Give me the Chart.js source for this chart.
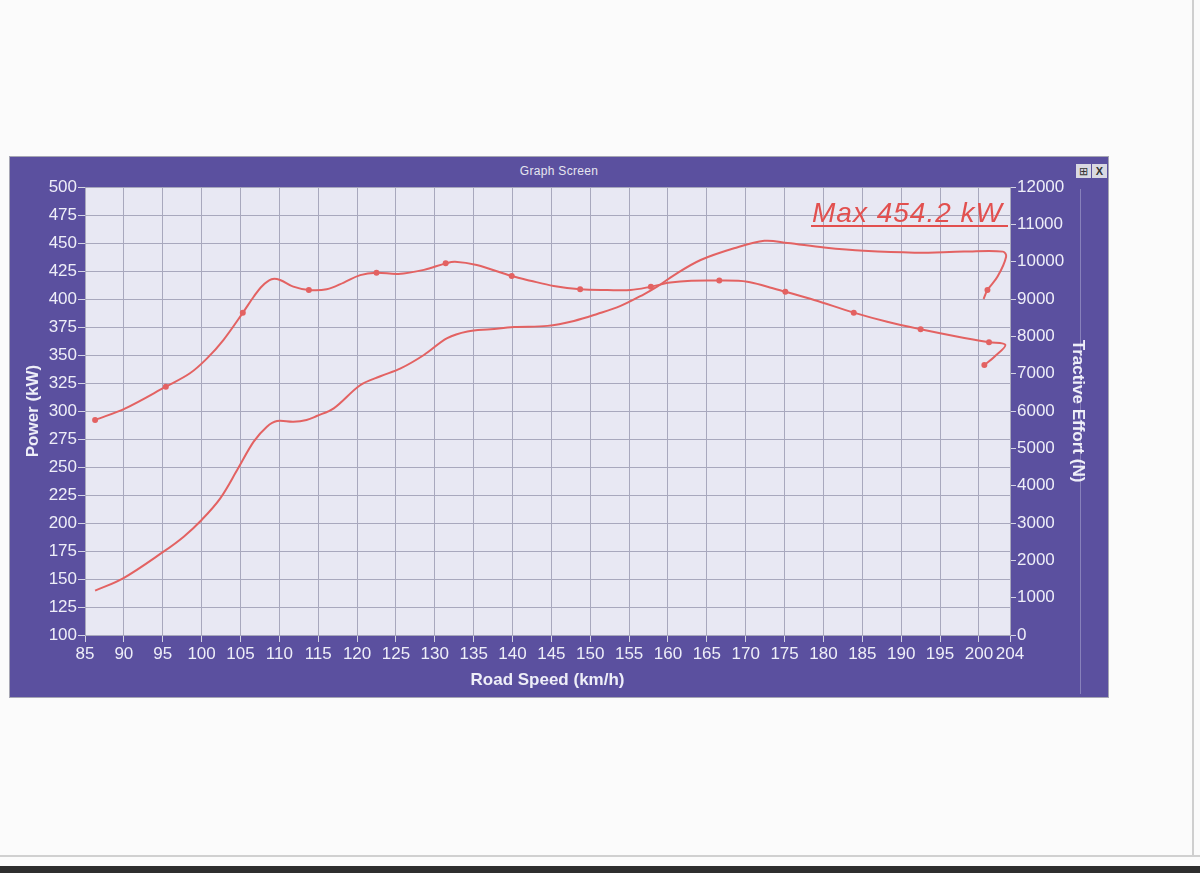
<!DOCTYPE html>
<html>
<head>
<meta charset="utf-8">
<title>Graph Screen</title>
<script src="https://cdn.jsdelivr.net/npm/chart.js@4.4.1/dist/chart.umd.min.js"></script>
<style>
  html, body { margin: 0; padding: 0; }
  body { width: 1200px; height: 873px; background: #fbfbfb; position: relative; overflow: hidden; font-family: "Liberation Sans", Arial, sans-serif; }
  .paper-edge { position: absolute; left: 1192px; top: 0; width: 2px; height: 856px; background: #cfcfcf; }
  .paper-bottom { position: absolute; left: 0; top: 855px; width: 1200px; height: 2px; background: #d0d0d0; }
  .scanner { position: absolute; left: 0; top: 866px; width: 1200px; height: 7px; background: #2e2e2e; }
  .frame { position: absolute; left: 9px; top: 156px; width: 1098px; height: 540px; background: #5b509f; border: 1px solid #a6a6b4; }
  .titlebar { position: absolute; left: 0; top: 2px; width: 100%; height: 24px; line-height: 24px; text-align: center; color: #e6e6f0; font-size: 12px; letter-spacing: 0.3px; }
  .btns { position: absolute; right: 1px; top: 7px; }
  .btns span { display: inline-block; width: 15px; height: 14px; line-height: 14px; margin-left: 1px; background: #d9d9e2; color: #333; font-size: 11px; text-align: center; vertical-align: top; }
  .sep { position: absolute; left: 1070px; top: 32px; width: 1px; height: 505px; background: rgba(220, 220, 240, 0.35); }
  .chartbox { position: absolute; left: 0; top: 0; width: 1098px; height: 540px; }
  .maxnote { position: absolute; left: 812px; top: 199px; font-size: 28px; line-height: 28px; font-style: italic; letter-spacing: 1px; color: #e2504f; white-space: nowrap; }
  .maxline { position: absolute; left: 811px; top: 225px; width: 197px; height: 2px; background: #e2504f; }
</style>
</head>
<body>
<div class="paper-edge"></div>
<div class="paper-bottom"></div>
<div class="scanner"></div>

<div class="frame">
  <div class="titlebar">Graph Screen</div>
  <div class="btns"><span>&#8862;</span><span><b>X</b></span></div>
  <div class="sep"></div>
  <div class="chartbox"><canvas id="dyno"></canvas></div>
</div>

<div class="maxnote">Max 454.2 kW</div>
<div class="maxline"></div>

<script>
// road speed ticks (km/h)
const speedTicks = [85, 90, 95, 100, 105, 110, 115, 120, 125, 130, 135, 140, 145, 150,
    155, 160, 165, 170, 175, 180, 185, 190, 195, 200, 204];

// power run (kW), left axis
const powerSpeed = [86.3, 89.9, 95.1, 97.7, 100.0, 102.4, 104.7, 106.7, 108.4, 109.7,
    111.8, 113.5, 114.8, 117.0, 120.4, 123.0, 125.6, 128.6, 131.6, 134.2,
    137.2, 140.2, 144.5, 147.9, 150.9, 153.9, 156.9, 158.6, 160.8, 164.2,
    168.5, 172.4, 175.4, 180.1, 185.2, 191.7, 198.1, 203.1, 203.5, 202.4,
    201.1, 200.6];
const powerKW = [139.6, 150.6, 174.4, 187.8, 202.7, 222.0, 248.8, 272.6, 286.0, 291.0,
    290.4, 292.0, 295.5, 302.4, 323.0, 331.0, 338.0, 350.0, 365.0, 371.0,
    373.0, 375.0, 376.0, 380.4, 386.6, 393.8, 404.2, 411.0, 421.4, 434.8,
    445.3, 452.0, 450.0, 446.0, 443.0, 441.4, 442.3, 442.3, 437.8, 420.0,
    408.0, 400.0];
const powerMarks = [201.1];

// tractive effort run (N), right axis
const effortSpeed = [86.3, 90.2, 95.4, 98.5, 100.7, 102.8, 105.3, 106.7, 107.8, 109.0,
    110.1, 111.8, 113.8, 116.1, 118.3, 120.4, 122.5, 125.3, 128.6, 131.4,
    132.6, 135.4, 139.9, 142.3, 145.3, 148.7, 152.2, 155.2, 157.8, 160.3,
    163.0, 166.6, 170.2, 172.8, 175.1, 178.8, 183.9, 188.2, 192.5, 197.3,
    201.3, 203.4, 202.0, 200.7];
const effortN = [5760, 6070, 6650, 7010, 7410, 7900, 8630, 9060, 9350, 9530,
    9510, 9330, 9240, 9260, 9440, 9640, 9705, 9670, 9780, 9955,
    10000, 9910, 9615, 9490, 9350, 9260, 9240, 9240, 9330, 9440,
    9490, 9495, 9465, 9330, 9195, 8975, 8635, 8390, 8190, 7990,
    7840, 7770, 7455, 7230];
const effortMarks = [86.3, 95.4, 105.3, 113.8, 122.5, 131.4, 139.9, 148.7, 157.8,
    166.6, 175.1, 183.9, 192.5, 201.3, 200.7];

const red = '#e36262';
const tickText = '#eeeef8';
const gridCol = '#a8a8bd';
const font = { family: '"Liberation Sans", Arial, sans-serif', size: 17 };
const titleFont = { family: '"Liberation Sans", Arial, sans-serif', size: 17, weight: 'bold' };

const plotBg = {
    id: 'plotBg',
    beforeDraw(chart) {
        const a = chart.chartArea;
        const c = chart.ctx;
        c.save();
        c.fillStyle = '#e8e8f3';
        c.fillRect(a.left, a.top, a.right - a.left, a.bottom - a.top);
        c.restore();
    }
};

const ctx = document.getElementById('dyno').getContext('2d');

const dyno = new Chart(ctx, {
    type: 'line',
    data: {
        datasets: [{
            label: 'Power',
            data: powerSpeed.map((s, i) => ({ x: s, y: powerKW[i] })),
            yAxisID: 'y',
            borderColor: red,
            backgroundColor: red,
            borderWidth: 2,
            tension: 0.35,
            pointRadius: c => powerMarks.includes(c.raw.x) ? 2 : 0
        }, {
            label: 'Tractive Effort',
            data: effortSpeed.map((s, i) => ({ x: s, y: effortN[i] })),
            yAxisID: 'y2',
            borderColor: red,
            backgroundColor: red,
            borderWidth: 2,
            tension: 0.35,
            pointRadius: c => effortMarks.includes(c.raw.x) ? 2 : 0
        }]
    },
    options: {
        responsive: true,
        maintainAspectRatio: false,
        animation: false,
        layout: { padding: { top: 30, left: 0, right: 0, bottom: 0 } },
        plugins: {
            legend: { display: false },
            tooltip: { enabled: false }
        },
        scales: {
            x: {
                type: 'linear',
                min: 85,
                max: 204,
                afterBuildTicks: scale => { scale.ticks = speedTicks.map(v => ({ value: v })); },
                afterFit: scale => { scale.height = 62; },
                ticks: { color: tickText, font: font, autoSkip: false, maxRotation: 0, padding: 2 },
                grid: { color: gridCol, tickColor: '#d4d4e4', tickLength: 7 },
                border: { color: gridCol },
                title: { display: true, text: 'Road Speed (km/h)', color: tickText, font: titleFont, padding: { top: 0, bottom: 6 } }
            },
            y: {
                position: 'left',
                min: 100,
                max: 500,
                afterFit: scale => { scale.width = 75; },
                ticks: { stepSize: 25, color: tickText, font: font, autoSkip: false, padding: 1 },
                grid: { color: gridCol, tickColor: '#d4d4e4', tickLength: 7 },
                border: { color: gridCol },
                title: { display: true, text: 'Power (kW)', color: tickText, font: titleFont, padding: { top: 13, bottom: 0 } }
            },
            y2: {
                position: 'right',
                min: 0,
                max: 12000,
                afterFit: scale => { scale.width = 98; },
                ticks: { stepSize: 1000, color: tickText, font: font, autoSkip: false, padding: 1,
                    callback: v => String(v) },
                grid: { drawOnChartArea: false, tickColor: '#d4d4e4', tickLength: 6 },
                border: { color: gridCol },
                title: { display: true, text: 'Tractive Effort (N)', color: tickText, font: titleFont, padding: { top: 20, bottom: 0 } }
            }
        }
    },
    plugins: [plotBg]
});
</script>
</body>
</html>
